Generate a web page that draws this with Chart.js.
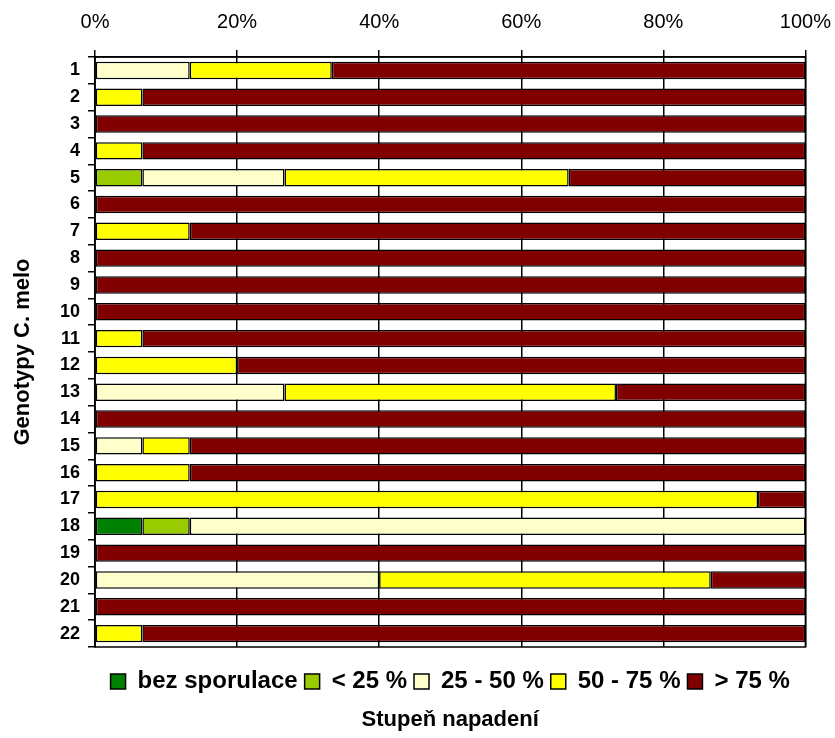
<!DOCTYPE html>
<html>
<head>
<meta charset="utf-8">
<script src="https://cdn.jsdelivr.net/npm/chart.js@4/dist/chart.umd.min.js"></script>
<style>
  html, body { margin: 0; padding: 0; background: #fff; }
  #wrap { width: 835px; height: 738px; }
</style>
</head>
<body>
<div id="wrap"><canvas id="c" width="835" height="738"></canvas></div>
<script>
// Genotypes of C. melo (rows)
const genotypes = ['1','2','3','4','5','6','7','8','9','10','11','12','13','14','15','16','17','18','19','20','21','22'];

// Share of plants (%) in each infection class per genotype
const bezSporulace = [0,0,0,0,0,0,0,0,0,0,0,0,0,0,0,0,0,6.67,0,0,0,0];
const pod25        = [0,0,0,0,6.67,0,0,0,0,0,0,0,0,0,0,0,0,6.67,0,0,0,0];
const od25do50     = [13.33,0,0,0,20,0,0,0,0,0,0,0,26.67,0,6.67,0,0,86.66,0,40,0,0];
const od50do75     = [20,6.67,0,6.67,40,0,13.33,0,0,0,6.67,20,46.66,0,6.67,13.33,93.33,0,0,46.67,0,6.67];
const nad75        = [66.67,93.33,100,93.33,33.33,100,86.67,100,100,100,93.33,80,26.67,100,86.66,86.67,6.67,0,100,13.33,100,93.33];

const xTicks = [0, 20, 40, 60, 80, 100];

const seriesNames  = ['bez sporulace', '< 25 %', '25 - 50 %', '50 - 75 %', '> 75 %'];
const seriesColors = ['#008000', '#99CC00', '#FFFFCC', '#FFFF00', '#800000'];
const seriesData   = [bezSporulace, pod25, od25do50, od50do75, nad75];

const FONT = '"Liberation Sans", Arial, sans-serif';

// frame around the plotting area
const frame = {
  id: 'frame',
  afterDatasetsDraw(chart) {
    const { ctx, chartArea: a } = chart;
    ctx.save();
    ctx.strokeStyle = '#000';
    ctx.lineWidth = 1.5;
    ctx.strokeRect(a.left, a.top, a.right - a.left, a.bottom - a.top);
    ctx.restore();
  }
};

new Chart(document.getElementById('c'), {
  type: 'bar',
  data: {
    labels: genotypes,
    datasets: seriesData.map((d, i) => ({
      label: seriesNames[i],
      data: d,
      backgroundColor: seriesColors[i],
      borderColor: '#000',
      borderWidth: 1.5,
      borderSkipped: false,
      barPercentage: 0.65,
      categoryPercentage: 1.0
    }))
  },
  options: {
    indexAxis: 'y',
    responsive: false,
    animation: false,
    layout: { padding: { top: 0, right: 20, left: 0, bottom: 0 } },
    scales: {
      x: {
        position: 'top',
        stacked: true,
        min: 0,
        max: 100,
        afterBuildTicks(axis) { axis.ticks = xTicks.map(v => ({ value: v })); },
        afterFit(axis) { axis.height = 57; },
        ticks: {
          color: '#000',
          padding: 4,
          font: { family: FONT, size: 20, lineHeight: 2.35 },
          callback: v => v + '%'
        },
        grid: { color: '#000', lineWidth: 1.5, tickLength: 7 },
        border: { color: '#000', width: 1.5 }
      },
      y: {
        stacked: true,
        afterFit(axis) { axis.width = 95; },
        ticks: {
          color: '#000',
          padding: 8,
          font: { family: FONT, size: 18, weight: 'bold' }
        },
        grid: { drawOnChartArea: false, color: '#000', lineWidth: 1.5, tickLength: 7 },
        border: { color: '#000', width: 1.5 },
        title: {
          display: true,
          text: 'Genotypy C. melo',
          color: '#000',
          font: { family: FONT, size: 22, weight: 'bold' },
          padding: { top: 10, bottom: 10 }
        }
      }
    },
    plugins: {
      legend: {
        position: 'bottom',
        fullSize: false,
        title: {
          display: true,
          text: '',
          padding: 0,
          font: { family: FONT, size: 10, lineHeight: 1.55 }
        },
        labels: {
          color: '#000',
          boxWidth: 15,
          boxHeight: 15,
          padding: 7,
          font: { family: FONT, size: 24, weight: 'bold' }
        }
      },
      title: {
        display: true,
        position: 'bottom',
        fullSize: false,
        text: 'Stupeň napadení',
        color: '#000',
        font: { family: FONT, size: 22, weight: 'bold' },
        padding: { top: 3.3, bottom: 4.8 }
      },
      tooltip: { enabled: false }
    }
  },
  plugins: [frame]
});
</script>
</body>
</html>
